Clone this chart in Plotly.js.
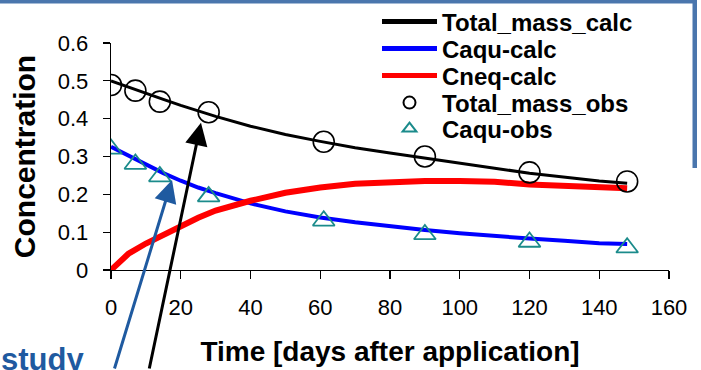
<!DOCTYPE html>
<html>
<head>
<meta charset="utf-8">
<script src="https://cdn.plot.ly/plotly-3.0.1.min.js"></script>
<style>
html,body{margin:0;padding:0;background:#fff;}
#chart{width:701px;height:370px;}
</style>
</head>
<body>
<div id="chart"></div>
<script>
// ---- data ----
var calcTime = [0, 5, 10, 15, 20, 25, 30, 40, 50, 60, 70, 80, 90, 100, 110, 120, 130, 140, 148];
var totalMassCalc = [0.500, 0.483, 0.467, 0.451, 0.435, 0.420, 0.406, 0.380, 0.358, 0.340, 0.323, 0.309, 0.295, 0.282, 0.269, 0.256, 0.245, 0.235, 0.229];
var caquCalc = [0.326, 0.302, 0.279, 0.256, 0.236, 0.218, 0.203, 0.176, 0.155, 0.139, 0.126, 0.115, 0.106, 0.097, 0.089, 0.083, 0.077, 0.071, 0.069];
var cneqCalc = [0.000, 0.043, 0.070, 0.093, 0.115, 0.138, 0.157, 0.183, 0.204, 0.218, 0.228, 0.233, 0.235, 0.235, 0.233, 0.226, 0.222, 0.219, 0.216];
var obsTime = [0, 7, 14, 28, 61, 90, 120, 148];
var totalMassObs = [0.489, 0.474, 0.445, 0.417, 0.339, 0.300, 0.258, 0.234];
var caquObs = [0.320, 0.280, 0.247, 0.194, 0.130, 0.094, 0.074, 0.059];
var seriesNames = ['Total_mass_calc', 'Caqu-calc', 'Cneq-calc', 'Total_mass_obs', 'Caqu-obs'];
var xTicks = [0, 20, 40, 60, 80, 100, 120, 140, 160];
var yTicks = [0, 0.1, 0.2, 0.3, 0.4, 0.5, 0.6];
var yTickText = ['0', '0.1', '0.2', '0.3', '0.4', '0.5', '0.6'];

var FONT = 'Liberation Sans, Arial, sans-serif';

var legendIds = ['legend', 'legend2', 'legend3', 'legend4', 'legend5'];

var traces = [
  {x: calcTime, y: totalMassCalc, name: seriesNames[0], mode: 'lines', line: {color: '#000000', width: 3}},
  {x: calcTime, y: caquCalc, name: seriesNames[1], mode: 'lines', line: {color: '#0000ff', width: 4}},
  {x: calcTime, y: cneqCalc, name: seriesNames[2], mode: 'lines', line: {color: '#ff0000', width: 6}},
  {x: obsTime, y: totalMassObs, name: seriesNames[3], mode: 'markers',
   marker: {symbol: 'circle-open', size: 21, color: '#000000', line: {width: 1.6, color: '#000000'}}},
  {x: obsTime, y: caquObs, name: seriesNames[4], mode: 'markers',
   marker: {symbol: 'triangle-up-open', size: 19, color: '#1b8b8b', line: {width: 1.8, color: '#1b8b8b'}}}
];
traces.forEach(function (t, i) { t.legend = legendIds[i]; });

var L = 111, R = 32, T = 43, B = 100, W = 701, H = 370;
var pw = W - L - R, ph = H - T - B;
function px(x) { return (x - L) / pw; }
function py(y) { return (H - B - y) / ph; }

var layout = {
  width: W, height: H,
  margin: {l: L, r: R, t: T, b: B, pad: 0, autoexpand: false},
  paper_bgcolor: '#ffffff', plot_bgcolor: '#ffffff',
  showlegend: true,
  font: {family: FONT, color: '#000000'},
  xaxis: {
    range: [0, 160], tickvals: xTicks, ticktext: xTicks.map(String),
    showline: true, linecolor: '#000000', linewidth: 1.3,
    ticks: 'outside', ticklen: 8, tickwidth: 1.3, tickcolor: '#000000',
    showgrid: false, zeroline: false,
    tickfont: {family: FONT, size: 22, color: '#000000'},
    ticklabelstandoff: 9,
    title: {text: 'Time [days after application]', font: {family: FONT, size: 28, weight: 'bold', color: '#000000'}, standoff: 22}
  },
  yaxis: {
    range: [0, 0.6], tickvals: yTicks, ticktext: yTickText,
    showline: true, linecolor: '#000000', linewidth: 1.3,
    ticks: 'outside', ticklen: 7, tickwidth: 1.3, tickcolor: '#000000',
    showgrid: false, zeroline: false,
    tickfont: {family: FONT, size: 22, color: '#000000'},
    ticklabelstandoff: 10,
    title: {text: 'Concentration', font: {family: FONT, size: 30, weight: 'bold', color: '#000000'}, standoff: 13}
  },
  shapes: [
    {type: 'rect', xref: 'paper', yref: 'paper', x0: px(0), x1: px(697), y0: py(3.5), y1: py(0),
     fillcolor: '#4a76ad', line: {width: 0}, layer: 'above'},
    {type: 'rect', xref: 'paper', yref: 'paper', x0: px(692.5), x1: px(697), y0: py(168), y1: py(0),
     fillcolor: '#4a76ad', line: {width: 0}, layer: 'above'}
  ],
  annotations: [
    {xref: 'paper', yref: 'paper', x: px(-1), y: py(379), xanchor: 'left', yanchor: 'bottom',
     text: 'study', showarrow: false, font: {family: FONT, size: 31, weight: 'bold', color: '#1f5aa0'}},
    {x: 17.5, y: 0.238, xref: 'x', yref: 'y', text: '', showarrow: true,
     ax: -58, ay: 200, arrowcolor: '#1f5aa0', arrowwidth: 3, arrowhead: 2, arrowsize: 1.5, standoff: 0},
    {x: 25.8, y: 0.389, xref: 'x', yref: 'y', text: '', showarrow: true,
     ax: -52, ay: 257, arrowcolor: '#000000', arrowwidth: 3, arrowhead: 2, arrowsize: 1.5, standoff: 0}
  ]
};

// one legend per row so the row spacing matches the reference
var rowCenters = [22, 49, 76, 103, 129];
legendIds.forEach(function (id, i) {
  layout[id] = {
    x: px(377), y: py(rowCenters[i]), xanchor: 'left', yanchor: 'middle',
    bgcolor: 'rgba(0,0,0,0)', borderwidth: 0,
    itemwidth: 55, itemsizing: 'constant',
    font: {family: FONT, size: 24, weight: 'bold', color: '#000000'}
  };
});

Plotly.newPlot('chart', traces, layout, {displayModeBar: false, staticPlot: true});
</script>
</body>
</html>
